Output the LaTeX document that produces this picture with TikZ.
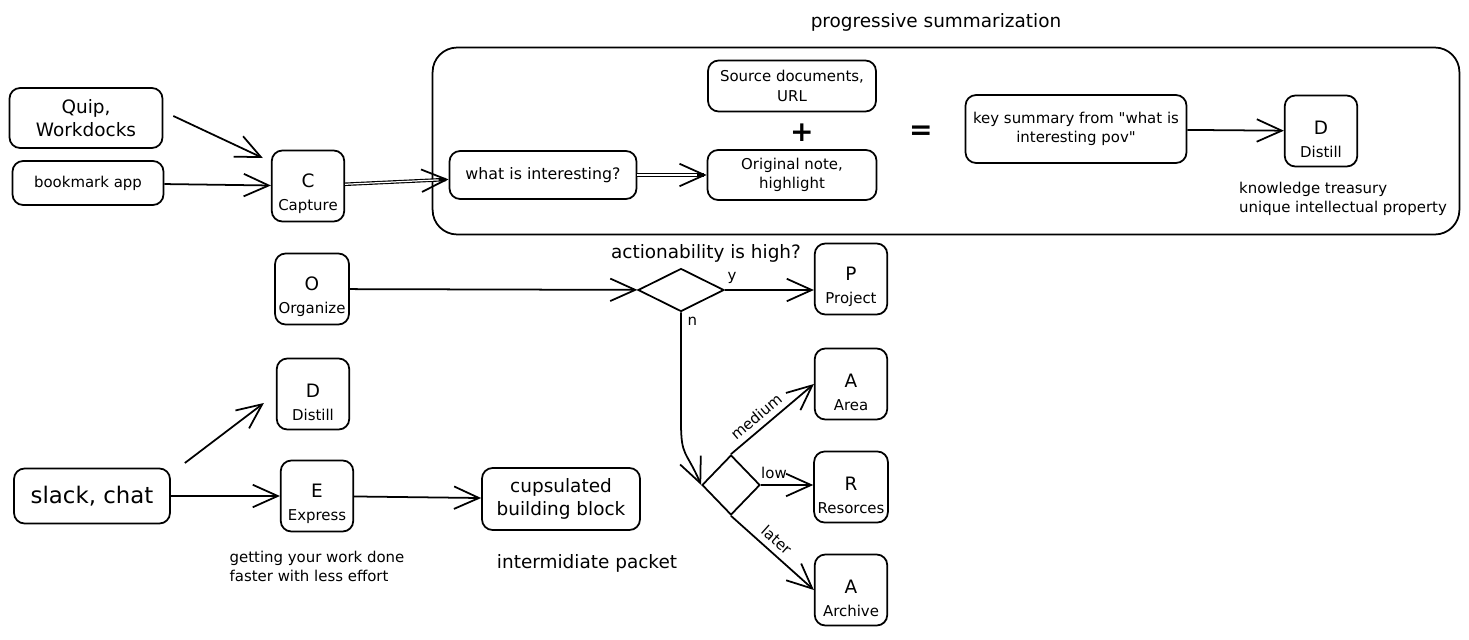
\documentclass[tikz,border=0pt]{standalone}
\usepackage{fontspec}
\setmainfont{DejaVu Sans}
\usetikzlibrary{arrows.meta}
\usetikzlibrary{shapes.geometric}
\newcommand{\smalltxt}{\fontsize{8.5}{11}\selectfont}
\newcommand{\bigtxt}{\fontsize{10.5}{13.5}\selectfont}
\newcommand{\stagetxt}[2]{{\bigtxt\rule{0pt}{17pt}#1}\\[1pt]{\smalltxt #2}}
\tikzset{box/.style={draw, rounded corners=6pt, line width=1pt, align=center, inner sep=2pt},
 stage/.style={box, minimum width=1.45cm, minimum height=1.42cm},
 bigfont/.style={font=\bigtxt},
 smallfont/.style={font=\smalltxt},
 arr/.style={-{Straight Barb[length=5mm,width=4.5mm,line width=1pt]}, line width=1pt},
 dbl/.style={arr, line width=2pt, postaction={draw, -, white, line width=0.7pt, shorten >=2mm}},
 decision/.style={diamond, draw, line width=1pt, inner sep=0pt},
 }

\begin{document}
\begin{tikzpicture}[x=0.02cm, y=-0.02cm]
        \useasboundingbox (0,0) rectangle (1469,639);
        % capture
        \node[box, bigfont, minimum width=3.06cm, minimum height=1.2cm] (quip) at (86,118) {Quip,\\Workdocks};
        \node[box, smallfont, minimum width=3.02cm, minimum height=0.88cm] (bookmark) at (88,183) {bookmark app};
        \node[stage] (capture) at (308,186) {\stagetxt{C}{Capture}};
        % progressive summarization
        \node[draw, rounded corners=14pt, line width=1pt, minimum width=20.54cm, minimum height=3.74cm] (progressive) at (946,141) {};
        \node[bigfont] (title) at (936,22) {progressive summarization};
        \node[box, smallfont, minimum width=3.36cm, minimum height=1.02cm] (source) at (792,86) {Source documents,\\URL};
        \node[font=\fontsize{16}{18}\selectfont\bfseries] (plus) at (802,133) {+};
        \node[font=\fontsize{16}{18}\selectfont\bfseries] (equals) at (921,133) {=};
        \node[box, font=\fontsize{9}{11}\selectfont, minimum width=3.74cm, minimum height=0.96cm] (interesting) at (543,175) {what is interesting?};
        \node[box, smallfont, minimum width=3.38cm, minimum height=1.0cm] (original) at (792,175) {Original note,\\highlight};
        \node[box, smallfont, minimum width=4.42cm, minimum height=1.36cm] (keysummary) at (1076,129) {key summary from \textquotedbl what is\\interesting pov\textquotedbl};
        \node[stage] (distilltop) at (1321,131) {\stagetxt{D}{Distill}};
        \node[smallfont, align=left, anchor=north west] (treasury) at (1233,176) {knowledge treasury\\unique intellectual property};
        % organize
        \node[stage] (organize) at (312,289) {\stagetxt{O}{Organize}};
        \node[decision, minimum width=1.72cm, minimum height=0.86cm] (d1) at (681,290) {};
        \node[font=\fontsize{10.5}{12}\selectfont] (question) at (706,253) {actionability is high?};
        \node[stage] (project) at (851,279) {\stagetxt{P}{Project}};
        \node[stage] (area) at (851,384) {\stagetxt{A}{Area}};
        \node[stage] (resources) at (851,487) {\stagetxt{R}{Resorces}};
        \node[stage] (archive) at (851,590) {\stagetxt{A}{Archive}};
        \node[decision, minimum width=1.16cm, minimum height=1.2cm] (d2) at (731,485) {};
        % distill and express
        \node[stage] (distillbot) at (313,394) {\stagetxt{D}{Distill}};
        \node[box, font=\fontsize{13}{15}\selectfont, minimum width=3.12cm, minimum height=1.1cm] (slack) at (92,496) {slack, chat};
        \node[stage] (express) at (317,496) {\stagetxt{E}{Express}};
        \node[smallfont, align=left, below=0.25cm] (faster) at (express.south) {getting your work done\\faster with less effort};
        \node[box, bigfont, minimum width=3.16cm, minimum height=1.24cm] (building) at (561,499) {cupsulated\\building block};
        \node[bigfont] (packet) at (587,563) {intermidiate packet};

        \draw[arr] ([shift={(10,-2)}]quip.east) -- ([shift={(-8,-28)}]capture.west);
        \draw[arr] (bookmark) -- (capture);
        \draw[dbl] (capture) -- (interesting);
        \draw[dbl] (interesting) -- (original);
        \draw[arr] (keysummary) -- (distilltop);
        \draw[arr] (organize) -- (d1);
        \draw[arr] (d1.east) -- node[smallfont, pos=0.08, above] {y} (d1.east -| project.west);
        \draw[arr] (d1.south) -- node[smallfont, pos=0.08, right] {n} ++(0,110)
            .. controls +(0,35) and +(-15,-35) .. (d2.west);
        \draw[arr] (d2.north) -- node[smallfont, pos=0.4, sloped, above] {medium} (area.west);
        \draw[arr] (d2.east) -- node[smallfont, pos=0.25, above] {low} (d2.east -| resources.west);
        \draw[arr] (d2.south) -- node[smallfont, pos=0.45, sloped, above] {later} (archive.west);
        \draw[arr] ([shift={(14,-33)}]slack.east) -- ([shift={(-12,9)}]distillbot.west);
        \draw[arr] (slack) -- (express);
        \draw[arr] (express) -- (building);
    \end{tikzpicture}
\end{document}
